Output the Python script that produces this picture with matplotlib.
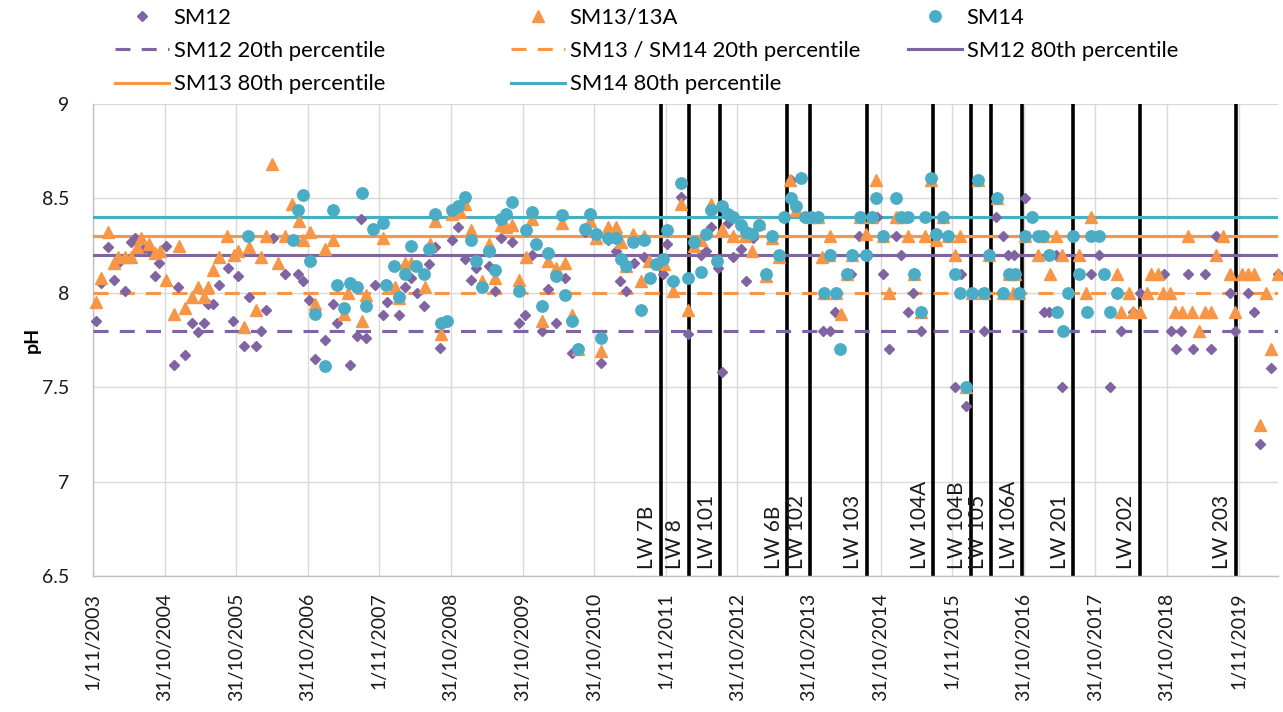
import matplotlib
matplotlib.use('Agg')
import matplotlib.pyplot as plt
import matplotlib.dates as mdates
import pandas as pd
from matplotlib.lines import Line2D

plt.rcParams['font.family'] = ['Lato', 'DejaVu Sans']

# ---------------- data (sample times in decimal years, pH values) ----------------
sm12_t = [2003.87, 2003.94, 2004.04, 2004.12, 2004.18, 2004.28, 2004.36, 2004.42, 2004.53, 2004.63,
          2004.70, 2004.75, 2004.85, 2004.96, 2005.02, 2005.12, 2005.21, 2005.30, 2005.38, 2005.44,
          2005.51, 2005.59, 2005.72, 2005.79, 2005.86, 2005.94, 2006.01, 2006.11, 2006.18, 2006.25,
          2006.34, 2006.51, 2006.69, 2006.76, 2006.85, 2006.93, 2007.07, 2007.18, 2007.24, 2007.42,
          2007.52, 2007.57, 2007.64, 2007.77, 2007.88, 2007.94, 2008.10, 2008.19, 2008.27, 2008.36,
          2008.45, 2008.52, 2008.61, 2008.68, 2008.84, 2008.93, 2009.03, 2009.11, 2009.18, 2009.36,
          2009.44, 2009.53, 2009.68, 2009.78, 2009.86, 2009.96, 2010.10, 2010.19, 2010.30, 2010.42,
          2010.52, 2010.70, 2010.93, 2011.02, 2011.13, 2011.19, 2011.27, 2011.39, 2011.53, 2011.69,
          2011.79, 2011.85, 2012.04, 2012.14, 2012.32, 2012.39, 2012.46, 2012.56, 2012.62, 2012.70,
          2012.77, 2012.88, 2012.95, 2013.05, 2013.58, 2014.03, 2014.12, 2014.19, 2014.42, 2014.53,
          2014.65, 2014.78, 2014.86, 2014.95, 2015.05, 2015.12, 2015.21, 2015.28, 2015.39, 2015.87,
          2015.95, 2016.02, 2016.23, 2016.27, 2016.44, 2016.54, 2016.61, 2016.69, 2016.85, 2017.11,
          2017.18, 2017.28, 2017.36, 2017.77, 2017.88, 2018.03, 2018.19, 2018.36, 2018.45, 2018.79,
          2018.89, 2018.96, 2019.03, 2019.12, 2019.19, 2019.36, 2019.44, 2019.51, 2019.71, 2019.78,
          2019.96, 2020.05, 2020.13, 2020.28, 2020.38]
sm12_ph = [7.85, 8.05, 8.24, 8.07, 8.16, 8.01, 8.27, 8.29, 8.23, 8.22,
           8.09, 8.16, 8.25, 7.62, 8.03, 7.67, 7.84, 7.79, 7.84, 7.94,
           7.94, 8.04, 8.13, 7.85, 8.09, 7.72, 7.98, 7.72, 7.80, 7.91,
           8.29, 8.10, 8.10, 8.06, 7.96, 7.65, 7.75, 7.94, 7.84, 7.62,
           7.77, 8.39, 7.76, 8.04, 7.88, 7.95, 7.88, 8.03, 8.08, 8.00,
           7.93, 8.15, 8.24, 7.71, 8.28, 8.35, 8.18, 8.07, 8.13, 8.14,
           8.01, 8.29, 8.27, 7.84, 7.88, 8.20, 7.80, 8.02, 7.84, 8.08,
           7.68, 8.32, 7.63, 8.28, 8.22, 8.06, 8.01, 8.16, 8.19, 8.15,
           8.10, 8.26, 8.51, 7.78, 8.20, 8.22, 8.35, 8.13, 7.58, 8.37,
           8.19, 8.23, 8.06, 8.29, 8.60, 7.80, 7.80, 7.90, 8.10, 8.30,
           8.20, 8.40, 8.10, 7.70, 8.30, 8.20, 7.90, 8.00, 7.80, 7.50,
           8.10, 7.40, 8.00, 7.80, 8.40, 8.30, 8.20, 8.20, 8.50, 7.90,
           7.90, 8.20, 7.50, 8.10, 8.20, 7.50, 7.80, 7.90, 8.00, 8.10,
           7.80, 7.70, 7.80, 8.10, 7.70, 8.10, 7.70, 8.30, 8.00, 7.80,
           8.00, 7.90, 7.20, 7.60, 8.10]

sm13_t = [2003.87, 2003.94, 2004.04, 2004.12, 2004.18, 2004.28, 2004.36, 2004.44, 2004.50, 2004.61,
          2004.70, 2004.77, 2004.85, 2004.96, 2005.03, 2005.12, 2005.21, 2005.30, 2005.38, 2005.44,
          2005.51, 2005.59, 2005.70, 2005.80, 2005.86, 2005.94, 2006.01, 2006.11, 2006.18, 2006.25,
          2006.33, 2006.41, 2006.51, 2006.61, 2006.71, 2006.76, 2006.86, 2006.93, 2007.07, 2007.18,
          2007.34, 2007.39, 2007.59, 2007.64, 2007.88, 2008.05, 2008.10, 2008.19, 2008.27, 2008.47,
          2008.54, 2008.61, 2008.69, 2008.84, 2008.96, 2009.03, 2009.11, 2009.26, 2009.36, 2009.44,
          2009.53, 2009.60, 2009.68, 2009.78, 2009.88, 2009.96, 2010.10, 2010.19, 2010.30, 2010.38,
          2010.42, 2010.52, 2010.60, 2010.77, 2010.86, 2010.93, 2011.02, 2011.13, 2011.20, 2011.27,
          2011.37, 2011.48, 2011.53, 2011.60, 2011.72, 2011.81, 2011.94, 2012.04, 2012.14, 2012.22,
          2012.32, 2012.46, 2012.62, 2012.77, 2012.94, 2013.03, 2013.13, 2013.23, 2013.31, 2013.41,
          2013.56, 2013.65, 2013.86, 2013.96, 2014.01, 2014.04, 2014.11, 2014.12, 2014.21, 2014.28,
          2014.36, 2014.43, 2014.54, 2014.63, 2014.71, 2014.77, 2014.86, 2014.95, 2015.05, 2015.12,
          2015.21, 2015.30, 2015.39, 2015.45, 2015.53, 2015.60, 2015.70, 2015.77, 2015.87, 2015.94,
          2016.02, 2016.11, 2016.19, 2016.27, 2016.34, 2016.46, 2016.54, 2016.62, 2016.68, 2016.71,
          2016.76, 2016.85, 2017.03, 2017.10, 2017.20, 2017.28, 2017.36, 2017.60, 2017.70, 2017.77,
          2018.13, 2018.19, 2018.30, 2018.36, 2018.45, 2018.55, 2018.61, 2018.70, 2018.77, 2018.87,
          2018.94, 2019.04, 2019.12, 2019.18, 2019.28, 2019.36, 2019.44, 2019.51, 2019.61, 2019.71,
          2019.78, 2019.88, 2019.96, 2020.05, 2020.13, 2020.21, 2020.28, 2020.38]
sm13_ph = [7.95, 8.08, 8.32, 8.16, 8.19, 8.19, 8.19, 8.24, 8.29, 8.26,
           8.21, 8.22, 8.07, 7.89, 8.25, 7.92, 7.98, 8.03, 7.98, 8.03,
           8.12, 8.19, 8.30, 8.20, 8.22, 7.82, 8.24, 7.91, 8.19, 8.30,
           8.68, 8.16, 8.30, 8.47, 8.38, 8.28, 8.32, 7.94, 8.23, 8.28,
           7.89, 8.00, 7.85, 7.99, 8.29, 8.03, 7.97, 8.16, 8.16, 8.03,
           8.26, 8.38, 7.78, 8.42, 8.43, 8.47, 8.33, 8.06, 8.26, 8.08,
           8.36, 8.35, 8.36, 8.07, 8.19, 8.39, 7.85, 8.17, 8.13, 8.37,
           8.16, 7.88, 7.70, 8.38, 8.29, 7.69, 8.35, 8.35, 8.27, 8.14,
           8.31, 8.06, 8.30, 8.17, 8.16, 8.15, 8.01, 8.47, 7.91, 8.25,
           8.28, 8.47, 8.34, 8.30, 8.30, 8.22, 8.37, 8.09, 8.29, 8.19,
           8.60, 8.44, 8.40, 8.40, 8.19, 8.00, 8.20, 8.30, 8.00, 7.89,
           8.10, 8.20, 8.40, 8.31, 8.40, 8.60, 8.30, 8.00, 8.40, 8.40,
           8.30, 8.10, 7.90, 8.30, 8.60, 8.28, 8.40, 8.30, 8.20, 8.30,
           7.50, 8.00, 8.60, 8.00, 8.20, 8.50, 8.00, 8.10, 8.00, 8.10,
           8.00, 8.30, 8.20, 8.30, 8.10, 8.30, 8.20, 8.20, 8.00, 8.40,
           8.10, 7.90, 8.00, 7.90, 7.90, 8.00, 8.10, 8.10, 8.00, 8.00,
           7.90, 7.90, 8.30, 7.90, 7.80, 7.90, 7.90, 8.20, 8.30, 8.10,
           7.90, 8.10, 8.10, 8.10, 7.30, 8.00, 7.70, 8.10]

sm14_t = [2006.00, 2006.62, 2006.69, 2006.76, 2006.86, 2006.93, 2007.07, 2007.18, 2007.24, 2007.34,
          2007.42, 2007.52, 2007.59, 2007.64, 2007.75, 2007.88, 2007.92, 2008.03, 2008.10, 2008.19,
          2008.27, 2008.34, 2008.45, 2008.52, 2008.61, 2008.69, 2008.77, 2008.84, 2008.93, 2009.03,
          2009.11, 2009.18, 2009.26, 2009.36, 2009.44, 2009.53, 2009.60, 2009.68, 2009.78, 2009.88,
          2009.96, 2010.02, 2010.10, 2010.19, 2010.30, 2010.38, 2010.42, 2010.52, 2010.60, 2010.70,
          2010.77, 2010.86, 2010.93, 2011.02, 2011.13, 2011.20, 2011.27, 2011.37, 2011.48, 2011.53,
          2011.61, 2011.69, 2011.79, 2011.85, 2011.94, 2012.04, 2012.14, 2012.22, 2012.32, 2012.39,
          2012.46, 2012.55, 2012.62, 2012.70, 2012.77, 2012.88, 2012.95, 2013.03, 2013.13, 2013.23,
          2013.31, 2013.41, 2013.48, 2013.58, 2013.65, 2013.72, 2013.77, 2013.86, 2013.96, 2014.04,
          2014.12, 2014.21, 2014.26, 2014.36, 2014.43, 2014.54, 2014.63, 2014.71, 2014.77, 2014.86,
          2015.05, 2015.12, 2015.21, 2015.30, 2015.39, 2015.45, 2015.53, 2015.60, 2015.70, 2015.77,
          2015.87, 2015.94, 2016.02, 2016.11, 2016.19, 2016.27, 2016.34, 2016.46, 2016.54, 2016.62,
          2016.71, 2016.76, 2016.85, 2016.94, 2017.03, 2017.10, 2017.18, 2017.29, 2017.38, 2017.45,
          2017.52, 2017.60, 2017.71, 2017.77, 2017.88, 2017.95, 2018.03, 2018.13]
sm14_ph = [8.30, 8.28, 8.44, 8.52, 8.17, 7.89, 7.61, 8.44, 8.04, 7.92,
           8.05, 8.03, 8.53, 7.93, 8.34, 8.37, 8.04, 8.14, 7.98, 8.10,
           8.25, 8.14, 8.10, 8.23, 8.42, 7.84, 7.85, 8.44, 8.46, 8.51,
           8.28, 8.17, 8.03, 8.22, 8.12, 8.39, 8.42, 8.48, 8.01, 8.33,
           8.43, 8.26, 7.93, 8.21, 8.09, 8.41, 7.99, 7.85, 7.70, 8.34,
           8.42, 8.31, 7.76, 8.29, 8.29, 8.18, 8.14, 8.27, 7.91, 8.28,
           8.08, 8.15, 8.18, 8.33, 8.06, 8.58, 8.08, 8.27, 8.11, 8.31,
           8.44, 8.17, 8.46, 8.42, 8.40, 8.36, 8.32, 8.31, 8.36, 8.10,
           8.30, 8.20, 8.40, 8.50, 8.46, 8.61, 8.40, 8.40, 8.40, 8.00,
           8.20, 8.00, 7.70, 8.10, 8.20, 8.40, 8.20, 8.40, 8.50, 8.30,
           8.50, 8.40, 8.40, 8.10, 7.90, 8.40, 8.61, 8.31, 8.40, 8.30,
           8.10, 8.00, 7.50, 8.00, 8.60, 8.00, 8.20, 8.50, 8.00, 8.10,
           8.10, 8.00, 8.30, 8.40, 8.30, 8.30, 8.20, 7.90, 7.80, 8.00,
           8.30, 8.10, 7.90, 8.30, 8.30, 8.10, 7.90, 8.00]

# percentile reference levels
sm12_p20 = 7.8
sm13_sm14_p20 = 8.0
sm12_p80 = 8.2
sm13_p80 = 8.3
sm14_p80 = 8.4

# longwall start markers
lw_t = [2011.76, 2012.15, 2012.59, 2013.53, 2013.85, 2014.64, 2015.57,
        2016.09, 2016.38, 2016.81, 2017.52, 2018.45, 2019.79]
lw_labels = ['LW 7B', 'LW 8', 'LW 101', 'LW 6B', 'LW 102', 'LW 103', 'LW 104A',
             'LW 104B', 'LW 105', 'LW 106A', 'LW 201', 'LW 202', 'LW 203']

x_tick_labels = ['1/11/2003', '31/10/2004', '31/10/2005', '31/10/2006', '1/11/2007',
                 '31/10/2008', '31/10/2009', '31/10/2010', '1/11/2011', '31/10/2012',
                 '31/10/2013', '31/10/2014', '1/11/2015', '31/10/2016', '31/10/2017',
                 '31/10/2018', '1/11/2019']
y_ticks = [6.5, 7, 7.5, 8, 8.5, 9]
y_tick_labels = ['6.5', '7', '7.5', '8', '8.5', '9']

# ---------------- helpers ----------------
def to_dt(ts):
    out = []
    for t in ts:
        y = int(t)
        frac = t - y
        start = pd.Timestamp(year=y, month=1, day=1)
        nd = (pd.Timestamp(year=y + 1, month=1, day=1) - start).days
        out.append((start + pd.Timedelta(days=frac * nd)).to_pydatetime())
    return out

PURPLE = '#8064A2'
ORANGE = '#F79646'
BLUE = '#4BACC6'
GRID = '#d9d9d9'

fig = plt.figure(figsize=(12.83, 7.12), dpi=100)
ax = fig.add_axes([93 / 1283, 1 - 576 / 712, (1278 - 93) / 1283, (576 - 104) / 712])

start = pd.Timestamp('2003-11-01')
tick_dates = [(start + pd.Timedelta(days=365.25 * k)).to_pydatetime() for k in range(len(x_tick_labels))]
x_right = (start + pd.Timedelta(days=16.55 * 365.25)).to_pydatetime()

# reference lines
for t, lab in zip(to_dt(lw_t), lw_labels):
    ax.axvline(t, color='black', lw=2.6, zorder=2)
    ax.annotate(lab, xy=(mdates.date2num(t), 6.5), xycoords='data',
                xytext=(-2.5, 5), textcoords='offset points', rotation=90,
                ha='right', va='bottom', fontsize=15, color='#1a1a1a', zorder=3)

dash = (4.8, 3.6)
ax.axhline(sm12_p20, color=PURPLE, lw=2.25, dashes=dash, zorder=3)
ax.axhline(sm13_sm14_p20, color=ORANGE, lw=2.25, dashes=dash, zorder=3)
ax.axhline(sm12_p80, color=PURPLE, lw=2.25, zorder=3)
ax.axhline(sm13_p80, color=ORANGE, lw=2.25, zorder=3)
ax.axhline(sm14_p80, color=BLUE, lw=2.25, zorder=3)

ax.plot(to_dt(sm12_t), sm12_ph, ls='none', marker='D', ms=5.4, color=PURPLE,
        mec=PURPLE, zorder=4, clip_on=False)
ax.plot(to_dt(sm13_t), sm13_ph, ls='none', marker='^', ms=8.2, color=ORANGE,
        mec=ORANGE, zorder=5, clip_on=False)
ax.plot(to_dt(sm14_t), sm14_ph, ls='none', marker='o', ms=8.2, color=BLUE,
        mec=BLUE, zorder=6, clip_on=False)

ax.set_xlim(start.to_pydatetime(), x_right)
ax.set_ylim(6.5, 9)
ax.set_xticks(tick_dates)
ax.set_xticklabels(x_tick_labels, rotation=90, fontsize=14, color='#1a1a1a')
ax.set_yticks(y_ticks)
ax.set_yticklabels(y_tick_labels, fontsize=14, color='#1a1a1a')
ax.tick_params(axis='both', length=0)
ax.tick_params(axis='x', pad=12)
ax.tick_params(axis='y', pad=17)
ax.grid(True, color=GRID, lw=1.0, zorder=0)
ax.set_axisbelow(True)
for s in ['top', 'right']:
    ax.spines[s].set_visible(False)
for s in ['left', 'bottom']:
    ax.spines[s].set_color('#bfbfbf')
    ax.spines[s].set_linewidth(1.0)

fig.text(32 / 1283, 1 - 340 / 712, 'pH', rotation=90, fontsize=14, fontweight='bold',
         ha='center', va='center')

# legend (three columns placed like the original)
h_sm12 = Line2D([], [], ls='none', marker='D', ms=5.4, color=PURPLE)
h_sm13 = Line2D([], [], ls='none', marker='^', ms=8.2, color=ORANGE)
h_sm14 = Line2D([], [], ls='none', marker='o', ms=8.2, color=BLUE)
h_p20_12 = Line2D([], [], color=PURPLE, lw=2.25, dashes=dash)
h_p20_13 = Line2D([], [], color=ORANGE, lw=2.25, dashes=dash)
h_p80_12 = Line2D([], [], color=PURPLE, lw=2.25)
h_p80_13 = Line2D([], [], color=ORANGE, lw=2.25)
h_p80_14 = Line2D([], [], color=BLUE, lw=2.25)

cols = [
    (115, [h_sm12, h_p20_12, h_p80_13], ['SM12', 'SM12 20th percentile', 'SM13 80th percentile']),
    (511, [h_sm13, h_p20_13, h_p80_14], ['SM13/13A', 'SM13 / SM14 20th percentile', 'SM14 80th percentile']),
    (908, [h_sm14, h_p80_12], ['SM14', 'SM12 80th percentile']),
]
for x0, hs, ls in cols:
    fig.legend(hs, ls, loc='upper left', bbox_to_anchor=(x0 / 1283, 1 - 8 / 712),
               frameon=False, borderpad=0, borderaxespad=0, handlelength=2.45,
               handletextpad=0.22, labelspacing=0.6, fontsize=15.8, numpoints=1)

fig.savefig('out.png', dpi=100)
